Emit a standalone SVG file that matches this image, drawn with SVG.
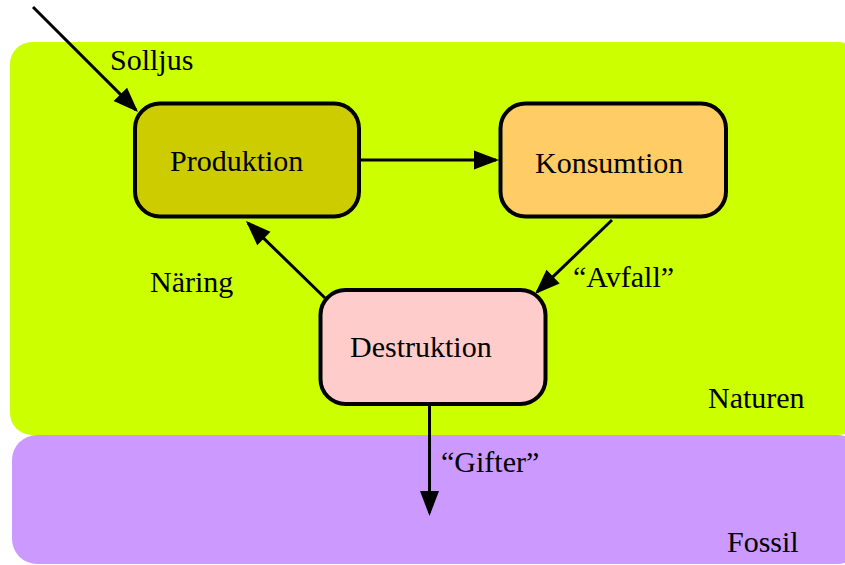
<svg xmlns="http://www.w3.org/2000/svg" width="845" height="565" viewBox="0 0 845 565">
<style>
text{font-family:"Liberation Serif","Times New Roman",serif;font-size:30px;fill:#000}
.node{stroke:#000;stroke-width:4}
.edge{stroke:#000;stroke-width:3;fill:none;marker-end:url(#ah)}
</style>
<defs>
<marker id="ah" markerUnits="userSpaceOnUse" markerWidth="26" markerHeight="20" refX="22" refY="9.5" orient="auto" overflow="visible">
<path d="M0,0 L25,9.5 L0,19 Z" fill="#000"/>
</marker>
</defs>
<g id="regions">
<rect id="naturen-bg" x="10" y="42" width="850" height="393" rx="22" fill="#ccff00"/>
<rect id="fossil-bg" x="12" y="435" width="850" height="129" rx="25" fill="#cc99ff"/>
<text x="708" y="408">Naturen</text>
<text x="727" y="552">Fossil</text>
</g>
<g id="connectors">
<line class="edge" x1="33" y1="7" x2="135.9" y2="109.9"/>
<line class="edge" x1="361" y1="160" x2="496" y2="160"/>
<line class="edge" x1="612" y1="220" x2="537.2" y2="291.9"/>
<line class="edge" x1="325" y1="298" x2="248.1" y2="223.1"/>
<line class="edge" x1="429.5" y1="405" x2="429.5" y2="513"/>
<text x="110" y="70">Solljus</text>
<text x="573" y="287">“Avfall”</text>
<text x="150" y="292">Näring</text>
<text x="441" y="472">“Gifter”</text>
</g>
<g id="produktion">
<rect class="node" x="135" y="103.5" width="224" height="113" rx="25" fill="#cccc00"/>
<text x="170" y="171">Produktion</text>
</g>
<g id="konsumtion">
<rect class="node" x="500.5" y="103.5" width="225.5" height="113" rx="25" fill="#ffcc66"/>
<text x="535" y="173">Konsumtion</text>
</g>
<g id="destruktion">
<rect class="node" x="320.5" y="290" width="225" height="114" rx="25" fill="#ffcccc"/>
<text x="350" y="357">Destruktion</text>
</g>
</svg>
